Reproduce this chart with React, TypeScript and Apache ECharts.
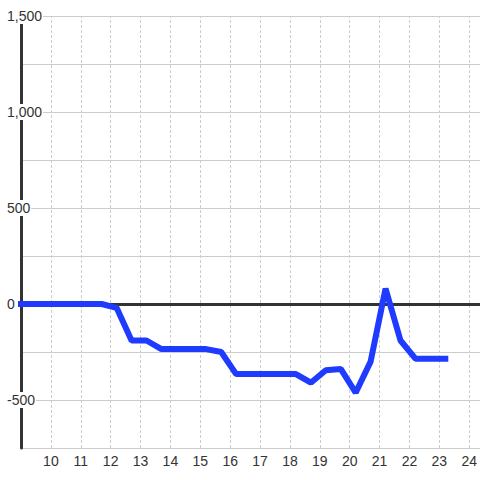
import React, { useEffect, useRef } from "react";
import * as echarts from "echarts";

const times = [8.7, 9.2, 9.7, 10.2, 10.7, 11.2, 11.7, 12.2, 12.7, 13.2, 13.7, 14.2, 14.7, 15.2, 15.7, 16.2, 16.7, 17.2, 17.7, 18.2, 18.7, 19.2, 19.7, 20.2, 20.7, 21.2, 21.7, 22.2, 22.7, 23.2];
const values = [0, 0, 0, 0, 0, 0, 0, -20, -190, -190, -235, -235, -235, -235, -250, -365, -365, -365, -365, -365, -410, -345, -338, -462, -300, 80, -190, -285, -285, -285];
const xGridHours = [10, 11, 12, 13, 14, 15, 16, 17, 18, 19, 20, 21, 22, 23, 24];

const xMin = 9;
const xMax = 24;
const yMin = -750;
const yMax = 1500;
const yStep = 250;
const yLabelStep = 500;

const FONT = "'Liberation Sans', Arial, sans-serif";

export default function App() {
  const ref = useRef<HTMLDivElement>(null);
  useEffect(() => {
    if (!ref.current) return;
    const chart = echarts.init(ref.current, undefined, { renderer: "svg" });
    const data = times.map((t, i) => [t, values[i]]);
    const vLines = xGridHours.map((h) => ({
      xAxis: h,
      lineStyle: { color: "#cccccc", width: 1, type: [3, 2] },
    }));
    chart.setOption({
      animation: false,
      backgroundColor: "#ffffff",
      textStyle: { fontFamily: FONT },
      grid: [
        { left: 21, right: 9, top: 16, bottom: 32, containLabel: false },
        { left: 21, right: 0, top: 16, bottom: 32, containLabel: false },
      ],
      xAxis: [
        {
          type: "value",
          gridIndex: 0,
          min: xMin,
          max: xMax,
          interval: 1,
          axisLine: { show: false },
          axisTick: { show: false },
          axisLabel: {
            color: "#333",
            fontSize: 14,
            fontFamily: FONT,
            margin: 6,
            showMinLabel: false,
            hideOverlap: false,
            formatter: (v: number) => (Number.isInteger(v) && v > xMin ? String(v) : ""),
          },
          splitLine: { show: false },
          minorSplitLine: { show: false },
        },
        {
          type: "value",
          gridIndex: 1,
          min: 0,
          max: 1,
          show: false,
        },
      ],
      yAxis: [
        {
          type: "value",
          gridIndex: 0,
          min: yMin,
          max: yMax,
          interval: yStep,
          axisLine: { show: true, onZero: false, lineStyle: { color: "#333", width: 3 } },
          axisTick: { show: false },
          axisLabel: {
            color: "#333",
            fontSize: 14,
            fontFamily: FONT,
            align: "left",
            margin: 15,
            backgroundColor: "#ffffff",
            padding: [1, 1, 1, 1],
            formatter: (v: number) => (v % yLabelStep === 0 ? v.toLocaleString("en-US") : ""),
          },
          splitLine: { show: false },
        },
        {
          type: "value",
          gridIndex: 1,
          min: yMin,
          max: yMax,
          interval: yStep,
          axisLine: { show: false },
          axisTick: { show: false },
          axisLabel: { show: false },
          splitLine: { show: true, lineStyle: { color: "#cccccc", width: 1 } },
        },
      ],
      series: [
        {
          type: "line",
          xAxisIndex: 0,
          yAxisIndex: 0,
          data,
          showSymbol: false,
          symbol: "none",
          z: 3,
          lineStyle: { color: "#1f3bff", width: 6, cap: "square" },
          markLine: {
            silent: true,
            z: 1,
            symbol: ["none", "none"],
            label: { show: false },
            emphasis: { disabled: true },
            lineStyle: { color: "#333", width: 3, type: "solid" },
            data: [
              ...vLines,
              [{ xAxis: xMin, yAxis: 0 }, { x: 480, yAxis: 0 }],
            ],
          },
        },
      ],
    });
    return () => chart.dispose();
  }, []);
  return <div ref={ref} style={{ position: "absolute", left: 0, top: 0, width: 480, height: 480 }} />;
}
